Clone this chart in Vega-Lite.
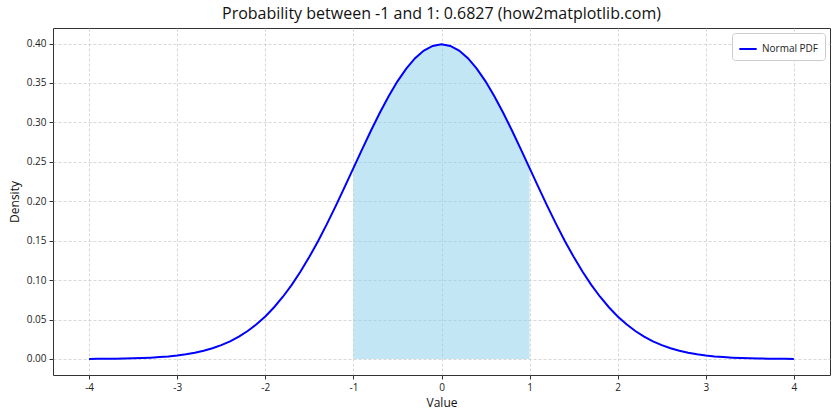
{
  "$schema": "https://vega.github.io/schema/vega-lite/v6.json",
  "autosize": {"type": "none"},
  "width": 777,
  "height": 347,
  "padding": {"left": 53, "top": 28, "right": 10, "bottom": 45},
  "background": "white",
  "title": {"text": "Probability between -1 and 1: 0.6827 (how2matplotlib.com)", "fontSize": 16, "font": "Open Sans", "fontWeight": "normal", "color": "#111", "offset": 6},
  "config": {
    "font": "Open Sans",
    "view": {"stroke": "#333", "strokeWidth": 1},
    "axis": {"domain": false, "zindex": 1, "gridColor": "#c8c8c8", "gridOpacity": 0.9, "gridDash": [3, 2], "gridWidth": 0.8, "tickColor": "#333", "tickSize": 4, "labelFontSize": 10, "labelColor": "#222", "titleFontSize": 12, "titleFontWeight": "normal", "titleColor": "#111"}
  },
  "data": {"values": [
    {"x": -4.0, "y": 0.000134}, {"x": -3.9, "y": 0.000199}, {"x": -3.8, "y": 0.000292}, {"x": -3.7, "y": 0.000425}, {"x": -3.6, "y": 0.000612},
    {"x": -3.5, "y": 0.000873}, {"x": -3.4, "y": 0.001232}, {"x": -3.3, "y": 0.001723}, {"x": -3.2, "y": 0.002384}, {"x": -3.1, "y": 0.003267},
    {"x": -3.0, "y": 0.004432}, {"x": -2.9, "y": 0.005953}, {"x": -2.8, "y": 0.007915}, {"x": -2.7, "y": 0.010421}, {"x": -2.6, "y": 0.013583},
    {"x": -2.5, "y": 0.017528}, {"x": -2.4, "y": 0.022395}, {"x": -2.3, "y": 0.028327}, {"x": -2.2, "y": 0.035475}, {"x": -2.1, "y": 0.043984},
    {"x": -2.0, "y": 0.053991}, {"x": -1.9, "y": 0.065616}, {"x": -1.8, "y": 0.07895}, {"x": -1.7, "y": 0.094049}, {"x": -1.6, "y": 0.110921},
    {"x": -1.5, "y": 0.129518}, {"x": -1.4, "y": 0.149727}, {"x": -1.3, "y": 0.171369}, {"x": -1.2, "y": 0.194186}, {"x": -1.1, "y": 0.217852},
    {"x": -1.0, "y": 0.241971}, {"x": -0.9, "y": 0.266085}, {"x": -0.8, "y": 0.289692}, {"x": -0.7, "y": 0.312254}, {"x": -0.6, "y": 0.333225},
    {"x": -0.5, "y": 0.352065}, {"x": -0.4, "y": 0.36827}, {"x": -0.3, "y": 0.381388}, {"x": -0.2, "y": 0.391043}, {"x": -0.1, "y": 0.396953},
    {"x": 0.0, "y": 0.398942},
    {"x": 0.1, "y": 0.396953}, {"x": 0.2, "y": 0.391043}, {"x": 0.3, "y": 0.381388}, {"x": 0.4, "y": 0.36827}, {"x": 0.5, "y": 0.352065},
    {"x": 0.6, "y": 0.333225}, {"x": 0.7, "y": 0.312254}, {"x": 0.8, "y": 0.289692}, {"x": 0.9, "y": 0.266085}, {"x": 1.0, "y": 0.241971},
    {"x": 1.1, "y": 0.217852}, {"x": 1.2, "y": 0.194186}, {"x": 1.3, "y": 0.171369}, {"x": 1.4, "y": 0.149727}, {"x": 1.5, "y": 0.129518},
    {"x": 1.6, "y": 0.110921}, {"x": 1.7, "y": 0.094049}, {"x": 1.8, "y": 0.07895}, {"x": 1.9, "y": 0.065616}, {"x": 2.0, "y": 0.053991},
    {"x": 2.1, "y": 0.043984}, {"x": 2.2, "y": 0.035475}, {"x": 2.3, "y": 0.028327}, {"x": 2.4, "y": 0.022395}, {"x": 2.5, "y": 0.017528},
    {"x": 2.6, "y": 0.013583}, {"x": 2.7, "y": 0.010421}, {"x": 2.8, "y": 0.007915}, {"x": 2.9, "y": 0.005953}, {"x": 3.0, "y": 0.004432},
    {"x": 3.1, "y": 0.003267}, {"x": 3.2, "y": 0.002384}, {"x": 3.3, "y": 0.001723}, {"x": 3.4, "y": 0.001232}, {"x": 3.5, "y": 0.000873},
    {"x": 3.6, "y": 0.000612}, {"x": 3.7, "y": 0.000425}, {"x": 3.8, "y": 0.000292}, {"x": 3.9, "y": 0.000199}, {"x": 4.0, "y": 0.000134}
  ]},
  "encoding": {
    "x": {"field": "x", "type": "quantitative", "scale": {"domain": [-4.41, 4.41], "nice": false, "zero": false},
      "axis": {"title": "Value", "values": [-4, -3, -2, -1, 0, 1, 2, 3, 4], "labelExpr": "datum.value + ''", "labelPadding": 3, "titlePadding": 5}},
    "y": {"field": "y", "type": "quantitative", "scale": {"domain": [-0.0203, 0.4197], "nice": false, "zero": false},
      "axis": {"title": "Density", "values": [0, 0.05, 0.1, 0.15, 0.2, 0.25, 0.3, 0.35, 0.4], "format": ".2f", "labelPadding": 3, "titlePadding": 5}}
  },
  "layer": [
    {
      "transform": [{"filter": "datum.x >= -1 && datum.x <= 1"}],
      "mark": {"type": "area", "color": "#87ceeb", "opacity": 0.5}
    },
    {
      "mark": {"type": "line", "strokeWidth": 2},
      "encoding": {
        "color": {"datum": "Normal PDF", "type": "nominal", "scale": {"range": ["#0000ff"]},
          "legend": {"title": null, "orient": "top-right", "offset": 5, "symbolType": "stroke", "symbolStrokeWidth": 2, "symbolSize": 300, "labelFontSize": 10, "labelColor": "#222", "fillColor": "white", "strokeColor": "#ccc", "padding": 6, "cornerRadius": 3}}
      }
    }
  ]
}
